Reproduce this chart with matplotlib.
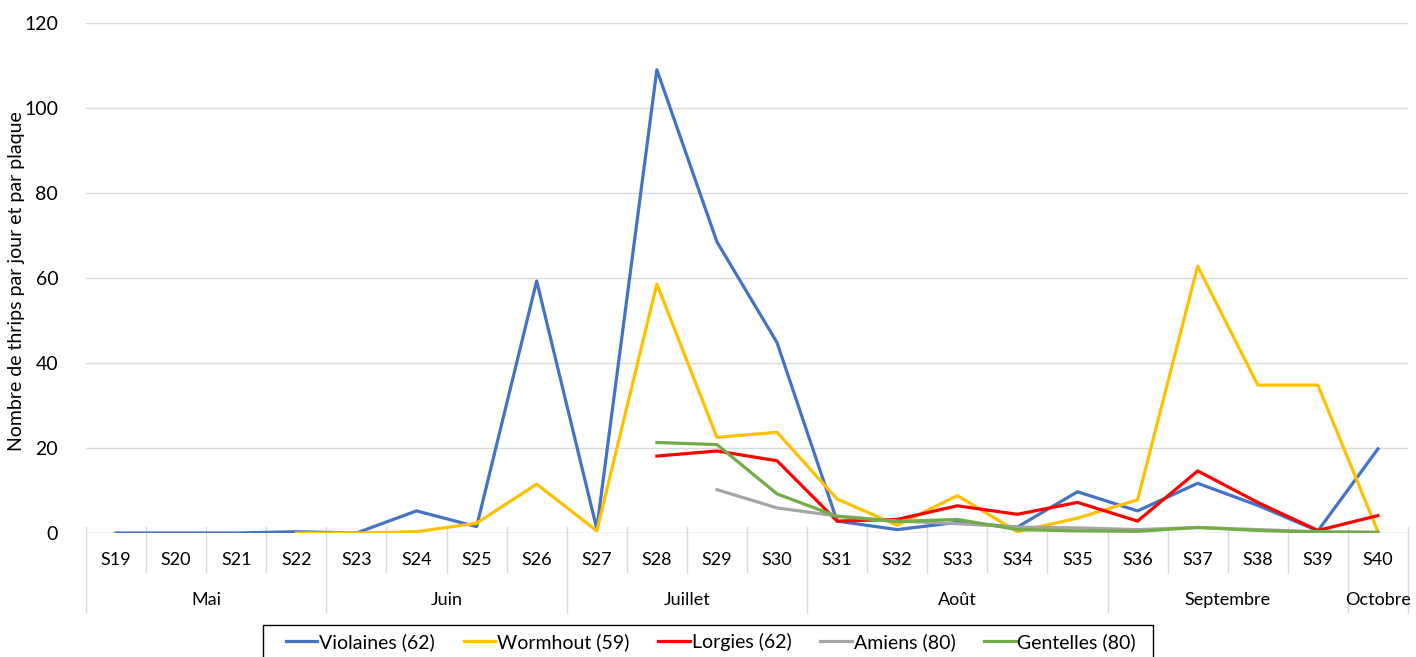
import numpy as np
import matplotlib
matplotlib.use("Agg")
import matplotlib.pyplot as plt
from matplotlib.patches import Rectangle

plt.rcParams['font.family'] = ['Lato', 'DejaVu Sans']

weeks = ['S19', 'S20', 'S21', 'S22', 'S23', 'S24', 'S25', 'S26', 'S27', 'S28', 'S29',
         'S30', 'S31', 'S32', 'S33', 'S34', 'S35', 'S36', 'S37', 'S38', 'S39', 'S40']
months = ['Mai', 'Juin', 'Juillet', 'Août', 'Septembre', 'Octobre']
month_sizes = [4, 4, 4, 5, 4, 1]

nan = np.nan
violaines = [0, 0, 0, 0.3, 0, 5.2, 1.5, 59.3, 1.0, 109, 68.5, 44.8,
             2.8, 0.8, 2.5, 1.4, 9.7, 5.2, 11.7, 6.5, 0.5, 19.8]
wormhout = [nan, nan, nan, 0, 0, 0.3, 2.3, 11.5, 0.5, 58.6, 22.5, 23.7,
            8.0, 1.8, 8.8, 0.3, 3.5, 7.8, 62.8, 34.8, 34.8, 0.3]
lorgies = [nan, nan, nan, nan, nan, nan, nan, nan, nan, 18.1, 19.3, 17.0,
           2.8, 3.2, 6.4, 4.4, 7.2, 2.8, 14.6, 7.2, 0.6, 4.1]
amiens = [nan, nan, nan, nan, nan, nan, nan, nan, nan, nan, 10.2, 5.9,
          4.0, 2.8, 2.2, 1.4, 1.2, 0.8, 1.3, 0.8, 0.3, 0.2]
gentelles = [nan, nan, nan, nan, nan, nan, nan, nan, nan, 21.3, 20.8, 9.2,
             3.9, 2.7, 3.2, 0.8, 0.5, 0.4, 1.3, 0.6, 0.2, 0.1]

series = [
    ('Violaines (62)', violaines, '#4472C4'),
    ('Wormhout (59)', wormhout, '#FFC000'),
    ('Lorgies (62)', lorgies, '#FF0000'),
    ('Amiens (80)', amiens, '#A5A5A5'),
    ('Gentelles (80)', gentelles, '#70AD47'),
]

W, H = 1416, 657
fig = plt.figure(figsize=(W / 100, H / 100), dpi=100)
ax = fig.add_axes([86 / W, (H - 533) / H, 1322 / W, 510 / H])

x = np.arange(len(weeks))
for label, vals, color in series:
    ax.plot(x, np.array(vals, dtype=float), color=color, lw=2.3, label=label,
            solid_joinstyle='round', zorder=3)

ax.set_xlim(-0.5, len(weeks) - 0.5)
ax.set_ylim(0, 120)
ax.set_yticks(range(0, 121, 20))
ax.tick_params(axis='y', length=0, labelsize=14, pad=20)
ax.set_xticks([])
ax.yaxis.grid(True, color='#D9D9D9', lw=1)
ax.set_axisbelow(True)
for side in ['top', 'right', 'left', 'bottom']:
    ax.spines[side].set_visible(False)
ax.axhline(0, color='#D9D9D9', lw=1, zorder=1)
fig.text(17 / W, 1 - 281 / H, 'Nombre de thrips par jour et par plaque',
         rotation=90, ha='center', va='center', fontsize=14)

# two-level category axis: weeks then months
tr = ax.get_xaxis_transform()
px = 1 / 510
for i, w in enumerate(weeks):
    ax.text(i, -27 * px, w, transform=tr, ha='center', va='center', fontsize=13)
bounds = np.cumsum([0] + month_sizes)
for b in range(len(weeks) + 1):
    bottom = -79 * px if b in bounds else -39 * px
    ax.plot([b - 0.5, b - 0.5], [6 * px, bottom], transform=tr, color='#D9D9D9',
            lw=1, clip_on=False)
for m, start, size in zip(months, bounds[:-1], month_sizes):
    ax.text(start - 0.5 + size / 2, -67 * px, m, transform=tr, ha='center',
            va='center', fontsize=13)

# legend box runs off the bottom edge
fig.patches.append(Rectangle((263 / W, -0.02), 890 / W, 0.02 + 32 / H,
                             transform=fig.transFigure, fill=False,
                             edgecolor='black', lw=1))
fig.legend(loc='center', bbox_to_anchor=(711 / W, 1 - 642 / H), ncol=5,
           fontsize=14, frameon=False, handlelength=1.6, handletextpad=0.1,
           columnspacing=1.5, borderpad=0, borderaxespad=0)

fig.savefig('out.png', dpi=100)
